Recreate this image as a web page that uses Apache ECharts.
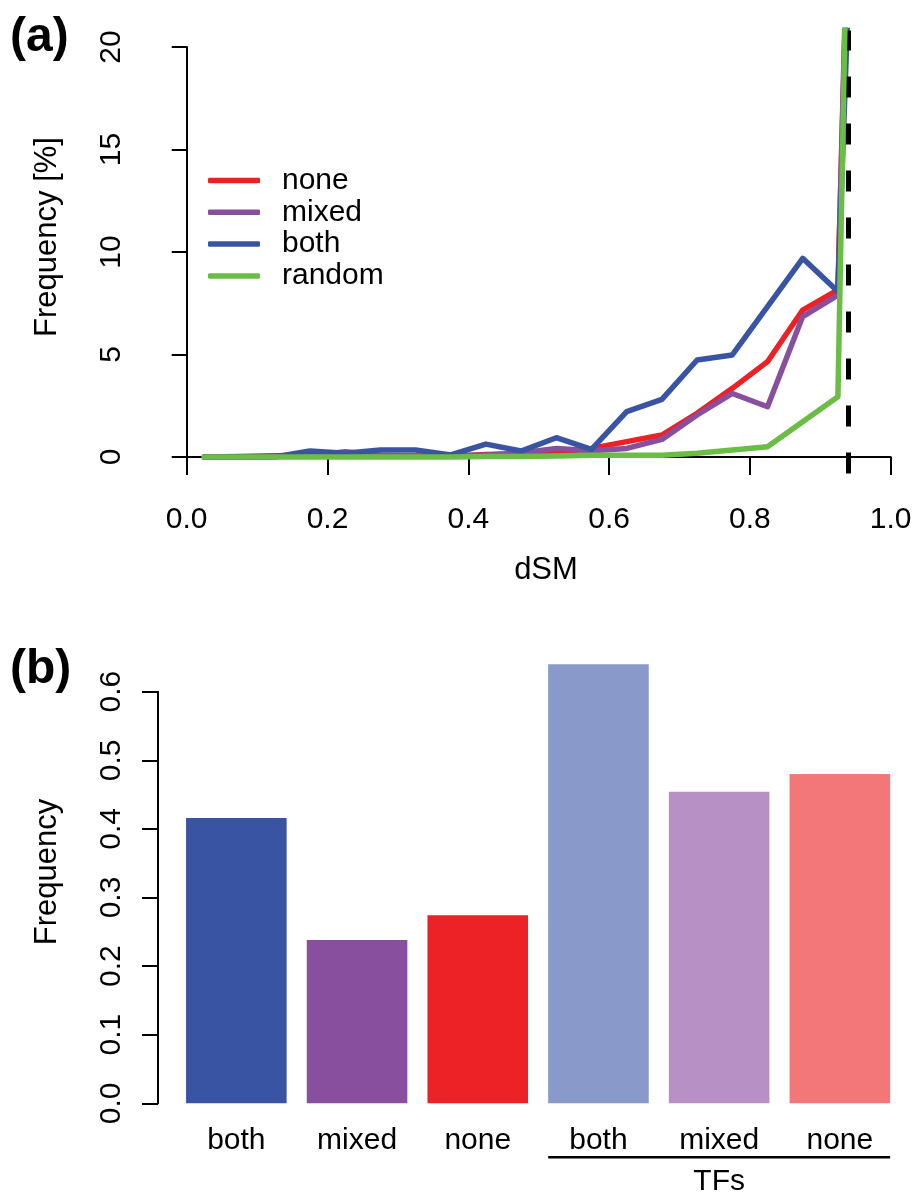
<!DOCTYPE html>
<html>
<head>
<meta charset="utf-8">
<script src="https://cdn.jsdelivr.net/npm/echarts@6/dist/echarts.min.js"></script>
<style>html,body{margin:0;padding:0;background:#fff}#c{width:916px;height:1196px}</style>
</head>
<body>
<div id="c"></div>
<script>
// ---------- panel (a) data ----------
const xBins = [0.025,0.075,0.125,0.175,0.225,0.275,0.325,0.375,0.425,0.475,0.525,0.575,0.625,0.675,0.725,0.775,0.825,0.875,0.925,0.975];
const noneVals   = [0.0,0.03,0.06,0.08,0.12,0.06,0.05,0.04,0.12,0.15,0.20,0.42,0.75,1.07,2.13,3.35,4.65,7.17,8.15,71.0];
const mixedVals  = [0.0,0.0,0.03,0.05,0.26,0.08,0.05,0.05,0.10,0.20,0.42,0.31,0.42,0.86,2.05,3.10,2.45,6.85,7.90,74.9];
const bothVals   = [0.0,0.0,0.0,0.29,0.18,0.34,0.34,0.10,0.63,0.29,0.94,0.37,2.21,2.81,4.73,4.98,7.33,9.69,8.07,56.7];
const randomVals = [0.0,0.0,0.0,0.0,0.0,0.0,0.0,0.0,0.02,0.03,0.05,0.08,0.08,0.08,0.18,0.34,0.50,1.72,2.94,93.5];
const lineNames  = ['none','mixed','both','random'];
const lineColors = ['#ED2024','#874F9E','#3A54A4','#6ABD45'];
const threshold = 0.945;
const xTicksA = [0,0.2,0.4,0.6,0.8,1.0];
const yTicksA = [0,5,10,15,20];

// ---------- panel (b) data ----------
const barCategories = ['both','mixed','none','both','mixed','none'];
const barValues = [0.416,0.238,0.274,0.640,0.454,0.480];
const barColors = ['#3A54A4','#874F9E','#EC2227','#8899CA','#B790C5','#F37679'];
const yTicksB = [0,0.1,0.2,0.3,0.4,0.5,0.6];
const groupNames = ['TFs'];
const groupStarts = [3];
const groupEnds = [5];

const FONT = 'Liberation Sans, Arial, Helvetica, sans-serif';
const seriesVals = [noneVals, mixedVals, bothVals, randomVals];
const barGap = 1/6;

const chart = echarts.init(document.getElementById('c'), null, {renderer:'canvas'});

const lineSeries = lineNames.map((n,i)=>({
  name:n, type:'line', xAxisIndex:0, yAxisIndex:0,
  data: xBins.map((x,j)=>[x, seriesVals[i][j]]),
  symbol:'none', clip:true,
  lineStyle:{color:lineColors[i], width:5.5, cap:'round', join:'round'},
  itemStyle:{color:lineColors[i]},
  z: 2+i,
  markLine: i===3 ? {
    silent:true, symbol:'none', label:{show:false},
    lineStyle:{color:'#000', width:5, type:[21,26], cap:'butt'},
    data:[{xAxis: threshold}]
  } : undefined
}));

const option = {
  animation:false,
  backgroundColor:'#fff',
  textStyle:{fontFamily:FONT, color:'#000'},
  grid:[
    {left:186.7, top:30.6, width:704, height:442.8},
    {left:186.7, top:47, width:704, height:410},
    {left:176, top:691.7, width:724.2, height:411.6}
  ],
  legend:{
    data:lineNames, orient:'vertical', left:208, top:165.5, padding:0,
    icon:'roundRect', itemWidth:52, itemHeight:5.5, itemGap:1.8,
    textStyle:{fontSize:30, fontFamily:FONT, color:'#000', lineHeight:30, padding:[0,0,0,17]}
  },
  xAxis:[
    {gridIndex:0, type:'value', min:0, max:1,
     axisLine:{show:true, lineStyle:{color:'#000', width:2}},
     axisTick:{show:true, length:18, lineStyle:{color:'#000', width:2}, customValues:xTicksA},
     axisLabel:{fontSize:30, color:'#000', margin:31, fontFamily:FONT, customValues:xTicksA, formatter:v=>v.toFixed(1)},
     splitLine:{show:false}},
    {gridIndex:1, type:'value', min:0, max:1, show:false},
    {gridIndex:2, type:'category', data:barCategories,
     axisLine:{show:false}, axisTick:{show:false},
     axisLabel:{fontSize:30, color:'#000', margin:22, fontFamily:FONT, interval:0}}
  ],
  yAxis:[
    {gridIndex:0, type:'value', min:-0.8, max:20.8, show:false},
    {gridIndex:1, type:'value', min:0, max:20, offset:29,
     axisLine:{show:true, lineStyle:{color:'#000', width:2}},
     axisTick:{show:true, length:15, lineStyle:{color:'#000', width:2}, customValues:yTicksA},
     axisLabel:{fontSize:30, color:'#000', margin:31, rotate:90, fontFamily:FONT, customValues:yTicksA},
     splitLine:{show:false}},
    {gridIndex:2, type:'value', min:0, max:0.6, offset:18,
     axisLine:{show:true, lineStyle:{color:'#000', width:2}},
     axisTick:{show:true, length:16, lineStyle:{color:'#000', width:2}, customValues:yTicksB},
     axisLabel:{fontSize:30, color:'#000', margin:31, rotate:90, fontFamily:FONT, customValues:yTicksB, formatter:v=>v.toFixed(1)},
     splitLine:{show:false}}
  ],
  series:[
    ...lineSeries,
    {type:'bar', xAxisIndex:2, yAxisIndex:2, clip:false,
     barCategoryGap:(barGap*100)+'%',
     data: barValues.map((v,i)=>({value:v, itemStyle:{color:barColors[i]}}))},
    {type:'custom', xAxisIndex:2, yAxisIndex:2, clip:false,
     data: groupNames.map((n,i)=>[groupStarts[i], 0]),
     renderItem:(params, api)=>{
       const k = params.dataIndex;
       const s = api.coord([groupStarts[k], 0]);
       const e = api.coord([groupEnds[k], 0]);
       const band = api.size([1,0])[0];
       const half = band*(1-barGap)/2;
       const x1 = s[0]-half, x2 = e[0]+half, y = s[1]+54;
       return {type:'group', children:[
         {type:'line', shape:{x1:x1, y1:y, x2:x2, y2:y}, style:{stroke:'#000', lineWidth:2.5}},
         {type:'text', style:{text:groupNames[k], x:(x1+x2)/2, y:y+24, align:'center', verticalAlign:'middle',
           font:'30px '+FONT, fill:'#000'}}
       ]};
     }}
  ],
  graphic:[
    {type:'text', x:10, y:38, style:{text:'(a)', font:'bold 48px '+FONT, fill:'#000', textVerticalAlign:'middle'}},
    {type:'text', x:10, y:670, style:{text:'(b)', font:'bold 48px '+FONT, fill:'#000', textVerticalAlign:'middle'}},
    {type:'text', x:47.5, y:237, rotation:Math.PI/2, style:{text:'Frequency [%]', font:'31px '+FONT, fill:'#000', textAlign:'center', textVerticalAlign:'middle'}},
    {type:'text', x:47.5, y:872, rotation:Math.PI/2, style:{text:'Frequency', font:'31px '+FONT, fill:'#000', textAlign:'center', textVerticalAlign:'middle'}},
    {type:'text', x:546, y:570, style:{text:'dSM', font:'31px '+FONT, fill:'#000', textAlign:'center', textVerticalAlign:'middle'}}
  ]
};
chart.setOption(option);
</script>
</body>
</html>
